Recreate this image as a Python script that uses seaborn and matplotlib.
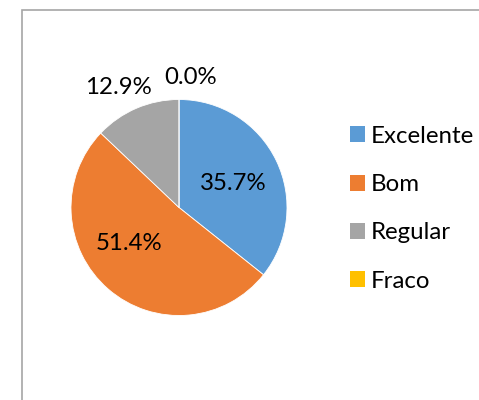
import numpy as np
import matplotlib
matplotlib.use("Agg")
import matplotlib.pyplot as plt
from matplotlib.patches import Patch, Rectangle
import seaborn as sns

categories = ["Excelente", "Bom", "Regular", "Fraco"]
values = [35.7, 51.4, 12.9, 0.0]
pct_labels = ["35.7%", "51.4%", "12.9%", "0.0%"]
colors = ["#5B9BD5", "#ED7D31", "#A5A5A5", "#FFC000"]

sns.set_theme(style="white")
plt.rcParams["font.family"] = ["Lato", "DejaVu Sans"]

W, H = 479, 400
fig = plt.figure(figsize=(W / 100, H / 100), dpi=100)

# chart border (extends beyond right/bottom edge like the reference)
fig.patches.append(Rectangle((22 / W, -0.05), 1.2, 1 - 10 / H + 0.05,
                             transform=fig.transFigure, fill=False,
                             edgecolor="#A6A6A6", linewidth=1.2))

R = 108.0
cx, cy = 179.0, H - 207.5
lim = 1.25
size = 2 * lim * R
ax = fig.add_axes([(cx - size / 2) / W, (cy - size / 2) / H, size / W, size / H])
ax.set_facecolor("none")

wedges, _ = ax.pie(values, colors=colors, startangle=90, counterclock=False,
                   radius=1.0, wedgeprops=dict(edgecolor="white", linewidth=0.6))
ax.set_xlim(-lim, lim)
ax.set_ylim(-lim, lim)
ax.set_aspect("equal")
ax.axis("off")

FS = 17.3
# label positions in pie radius units (Excel "best fit" placement)
label_pos = [(0.50, 0.225), (-0.46, -0.33), (-0.56, 1.11), (0.11, 1.20)]
for (lx, ly), txt in zip(label_pos, pct_labels):
    ax.text(lx, ly, txt, ha="center", va="center", fontsize=FS, color="black")

handles = [Patch(facecolor=c, edgecolor="none") for c in colors]
fig.legend(handles, categories, loc="upper left",
           bbox_to_anchor=(340 / W, 1 - 116 / H), frameon=False,
           fontsize=FS, handlelength=0.65, handleheight=0.65,
           handletextpad=0.25, labelspacing=1.14, borderaxespad=0,
           labelcolor="black")

fig.savefig("out.png", dpi=100)
